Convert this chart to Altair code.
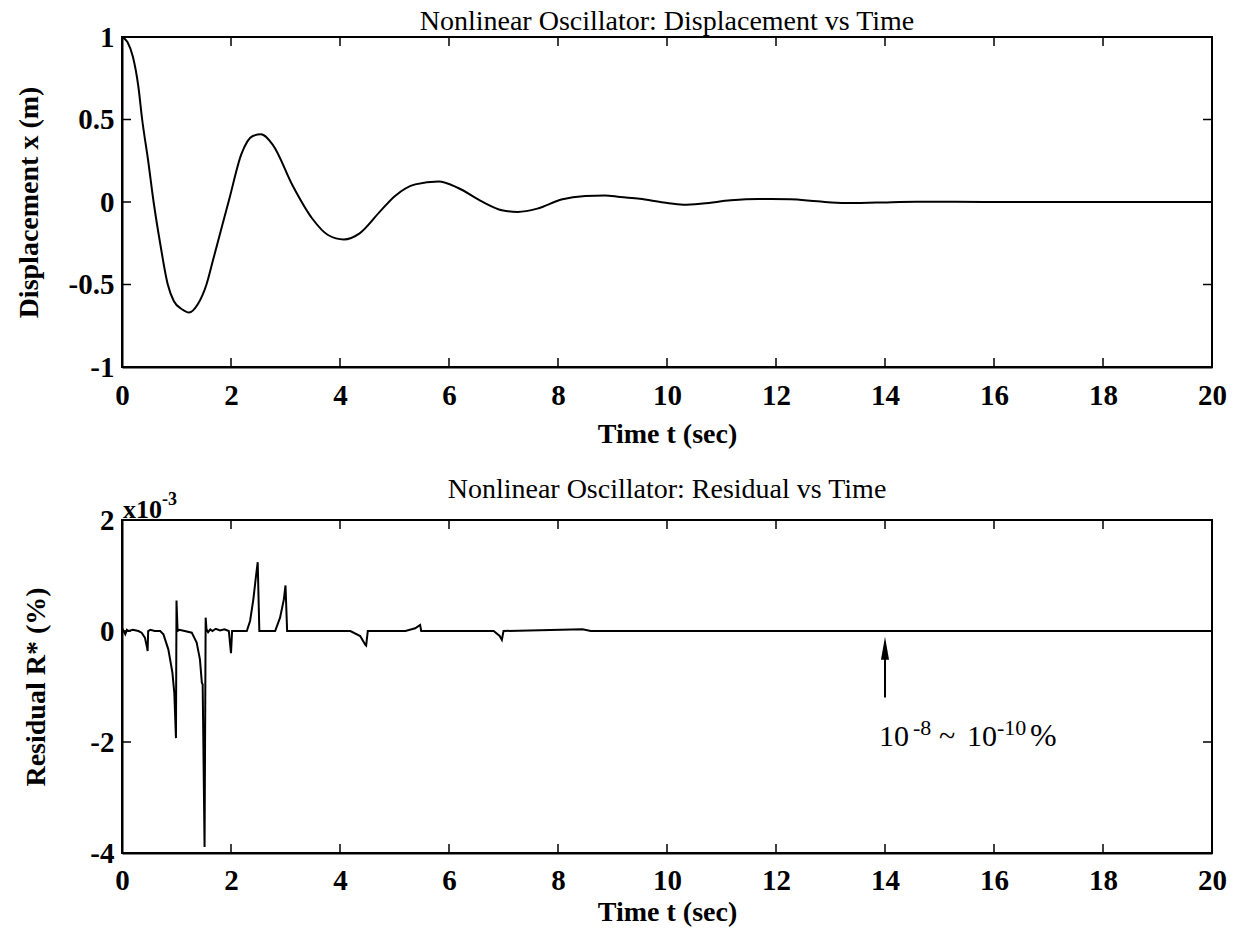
import altair as alt
import pandas as pd

# Displacement response x(t) of the damped nonlinear oscillator
disp_t = [0.0, 0.1, 0.2, 0.3, 0.37, 0.48, 0.58, 0.7, 0.84, 0.95, 1.1, 1.23, 1.39, 1.55,
          1.68, 1.97, 2.19, 2.4, 2.55, 2.77, 3.13, 3.49, 3.78, 4.07, 4.36, 4.72, 5.01,
          5.38, 5.81, 6.17, 6.61, 6.97, 7.26, 7.62, 8.06, 8.5, 8.86, 9.14, 9.5, 9.94,
          10.3, 10.66, 11.17, 11.68, 12.26, 12.76, 13.27, 13.85, 14.58, 16.0, 18.0, 20.0]
disp_x = [1.0, 0.97, 0.88, 0.7, 0.5, 0.25, 0.0, -0.25, -0.5, -0.6, -0.65, -0.67, -0.62, -0.5,
          -0.34, 0.02, 0.29, 0.4, 0.41, 0.345, 0.1, -0.1, -0.2, -0.227, -0.19, -0.063, 0.037,
          0.107, 0.125, 0.085, 0.002, -0.05, -0.06, -0.04, 0.015, 0.037, 0.04, 0.03, 0.019, -0.003,
          -0.016, -0.009, 0.01, 0.018, 0.017, 0.004, -0.006, -0.003, 0.002, 0.0, 0.0, 0.0]

# Residual R* in units of 1e-3 %
res_t = [0.0, 0.03, 0.06, 0.09, 0.12, 0.2, 0.3, 0.36, 0.42, 0.46, 0.47, 0.48, 0.52, 0.6,
         0.7, 0.76, 0.85, 0.925, 0.96, 0.99, 1.0, 1.02, 1.05, 1.15, 1.28, 1.37, 1.43, 1.465,
         1.48, 1.515, 1.535, 1.55, 1.58, 1.62, 1.66, 1.72, 1.8, 1.88, 1.96, 2.0, 2.02, 2.29,
         2.35, 2.41, 2.46, 2.49, 2.52, 2.81, 2.9, 2.97, 3.0, 3.03, 4.19, 4.37, 4.46, 4.48,
         4.51, 5.2, 5.38, 5.47, 5.49, 6.82, 6.93, 6.97, 7.0, 8.45, 8.6, 20.0]
res_v = [0.05, 0.0, -0.06, 0.02, 0.0, 0.02, 0.0, -0.03, -0.12, -0.3, -0.36, 0.0, 0.02, 0.0,
         0.0, -0.06, -0.33, -0.75, -1.12, -1.93, 0.55, 0.0, 0.02, 0.0, -0.03, -0.21, -0.51, -0.93,
         -0.96, -3.89, 0.24, 0.03, -0.02, 0.03, 0.0, 0.04, 0.01, 0.03, 0.0, -0.4, 0.0, 0.0,
         0.18, 0.57, 1.0, 1.24, 0.0, 0.0, 0.24, 0.57, 0.82, 0.0, 0.0, -0.09, -0.24, -0.26,
         0.0, 0.0, 0.05, 0.11, 0.0, 0.0, -0.09, -0.16, 0.0, 0.03, 0.0, 0.0]

x_ticks = [0, 2, 4, 6, 8, 10, 12, 14, 16, 18, 20]
disp_ticks = [-1, -0.5, 0, 0.5, 1]
res_ticks = [-4, -2, 0, 2]

# annotation arrow at t = 14 s
arrow_t = [14]
arrow_tail = [-1.2]
arrow_head = [-0.45]
head_v = [-0.31]
note_v = [-2.07]

SERIF = "Liberation Serif"
W = 1090
H1 = 330
H2 = 333
TICK = 9

xscale = alt.Scale(domain=[0, 20], nice=False, zero=False)
XAXIS_TOP = alt.Axis(values=x_ticks, title="Time t  (sec)", labelPadding=14,
                     titlePadding=10, labelExpr="'' + datum.value", labelFlush=False)
XAXIS_BOT = alt.Axis(values=x_ticks, title="Time t  (sec)", labelPadding=13,
                     titlePadding=3, labelExpr="'' + datum.value", labelFlush=False)

yscale1 = alt.Scale(domain=[-1, 1], nice=False, zero=False)
YAXIS1 = alt.Axis(values=disp_ticks, title="Displacement x  (m)", labelPadding=8,
                  titlePadding=25, labelExpr="'' + datum.value", labelFlush=False)

yscale2 = alt.Scale(domain=[-4, 2], nice=False, zero=False)
YAXIS2 = alt.Axis(values=res_ticks, title="Residual R*  (%)", labelPadding=8,
                  titlePadding=39, labelExpr="'' + datum.value", labelFlush=False)


def inward_ticks(xaxis, yscale, yaxis, yvals, h):
    inner_x = pd.DataFrame({"v": x_ticks[1:-1]})
    inner_y = pd.DataFrame({"v": yvals[1:-1]})
    base_x = alt.Chart(inner_x).mark_rule(color="black", strokeWidth=1.5)
    base_y = alt.Chart(inner_y).mark_rule(color="black", strokeWidth=1.5)
    xs = alt.X("v:Q", scale=xscale, axis=xaxis)
    ys = alt.Y("v:Q", scale=yscale, axis=yaxis)
    return [
        base_x.encode(x=xs, y=alt.value(h), y2=alt.value(h - TICK)),
        base_x.encode(x=xs, y=alt.value(0), y2=alt.value(TICK)),
        base_y.encode(y=ys, x=alt.value(0), x2=alt.value(TICK)),
        base_y.encode(y=ys, x=alt.value(W), x2=alt.value(W - TICK)),
    ]


# ---- top panel: displacement ----
disp_df = pd.DataFrame({"t": disp_t, "x": disp_x})
disp_line = alt.Chart(disp_df).mark_line(color="black", strokeWidth=2, interpolate="monotone").encode(
    x=alt.X("t:Q", scale=xscale, axis=XAXIS_TOP),
    y=alt.Y("x:Q", scale=yscale1, axis=YAXIS1),
)
top = alt.layer(disp_line, *inward_ticks(XAXIS_TOP, yscale1, YAXIS1, disp_ticks, H1)).properties(
    width=W, height=H1,
    title=alt.TitleParams("Nonlinear Oscillator: Displacement vs Time", frame="group"),
)

# ---- bottom panel: residual ----
res_df = pd.DataFrame({"t": res_t, "r": res_v, "i": list(range(len(res_t)))})


def X2(field):
    return alt.X(field, scale=xscale, axis=XAXIS_BOT)


def Y2(field):
    return alt.Y(field, scale=yscale2, axis=YAXIS2)


res_line = alt.Chart(res_df).mark_line(color="black", strokeWidth=2).encode(
    x=X2("t:Q"), y=Y2("r:Q"), order="i:Q",
)

corner = pd.DataFrame({"t": [0], "r": [2]})
exp_base = alt.Chart(corner).mark_text(font=SERIF, fontSize=26, fontWeight="bold",
                                        align="left", baseline="alphabetic", dx=1, dy=-2,
                                        color="black").encode(
    x=X2("t:Q"), y=Y2("r:Q"), text=alt.value("x10"))
exp_sup = alt.Chart(corner).mark_text(font=SERIF, fontSize=18, fontWeight="bold",
                                       align="left", baseline="alphabetic", dx=40, dy=-15,
                                       color="black").encode(
    x=X2("t:Q"), y=Y2("r:Q"), text=alt.value("-3"))

arrow_df = pd.DataFrame({"t": arrow_t, "a": arrow_tail, "b": arrow_head, "h": head_v, "n": note_v})
arrow_rule = alt.Chart(arrow_df).mark_rule(color="black", strokeWidth=2).encode(
    x=X2("t:Q"), y=Y2("a:Q"), y2="b:Q")
arrow_tip = alt.Chart(arrow_df).mark_point(
    shape="M0,-1L0.35,1L-0.35,1Z", filled=True, color="black", size=529, opacity=1).encode(
    x=X2("t:Q"), y=Y2("h:Q"))


def note(txt, dx, dy=0, size=30):
    return alt.Chart(arrow_df).mark_text(font=SERIF, fontSize=size, align="left",
                                         baseline="alphabetic", dx=dx, dy=dy,
                                         color="black").encode(
        x=X2("t:Q"), y=Y2("n:Q"), text=alt.value(txt))


notes = [note("10", -6), note("-8", 28, -11, 22), note("~", 54), note("10", 82),
         note("-10", 112, -11, 22), note("%", 145, 0, 32)]

bottom = alt.layer(res_line, *inward_ticks(XAXIS_BOT, yscale2, YAXIS2, res_ticks, H2),
                   exp_base, exp_sup, arrow_rule, arrow_tip, *notes).properties(
    width=W, height=H2,
    title=alt.TitleParams("Nonlinear Oscillator: Residual vs Time", frame="group"),
)

chart = alt.vconcat(top, bottom, spacing=26).properties(
    padding={"left": 14, "top": 7, "right": 10, "bottom": 2},
    background="white",
).configure_view(stroke="black", strokeWidth=2).configure_axis(
    domainColor="black", domainWidth=2, grid=False, ticks=False,
    labelFont=SERIF, labelFontSize=29, labelFontWeight="bold", labelColor="black",
    titleFont=SERIF, titleFontSize=28, titleFontWeight="bold", titleColor="black",
).configure_title(
    font=SERIF, fontSize=28, fontWeight="normal", color="black", offset=-13, anchor="middle",
)

chart.save("out.html", embed_options={"renderer": "svg", "actions": False})
